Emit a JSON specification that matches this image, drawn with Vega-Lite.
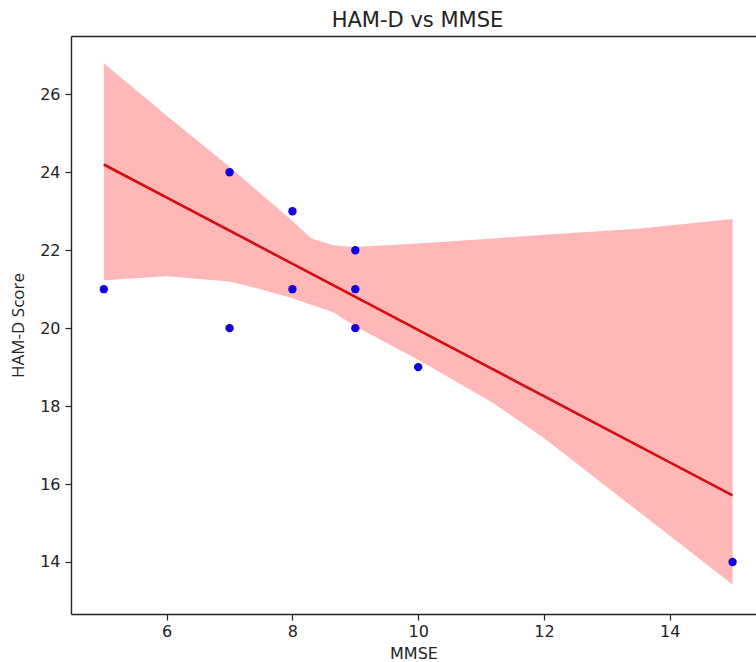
{
  "$schema": "https://vega.github.io/schema/vega-lite/v6.json",
  "autosize": {"type": "none"},
  "padding": {"left": 71, "top": 36, "right": 0, "bottom": 48},
  "width": 685,
  "height": 578,
  "background": "white",
  "config": {
    "view": {"stroke": null},
    "font": "DejaVu Sans",
    "axis": {
      "grid": false,
      "domainColor": "#222222",
      "domainWidth": 1.4,
      "tickColor": "#222222",
      "tickWidth": 1.2,
      "tickSize": 6,
      "labelFont": "DejaVu Sans",
      "labelFontSize": 16,
      "labelColor": "#222222",
      "titleFont": "DejaVu Sans",
      "titleFontSize": 16,
      "titleFontWeight": "normal",
      "titleColor": "#222222"
    }
  },
  "title": {
    "text": "HAM-D vs MMSE",
    "font": "DejaVu Sans",
    "fontSize": 21,
    "fontWeight": "normal",
    "color": "#222222",
    "offset": 5,
    "dx": 4
  },
  "resolve": {"axis": {"x": "independent"}},
  "datasets": {
    "points": [
      {"MMSE": 5, "HAMD": 21},
      {"MMSE": 7, "HAMD": 24},
      {"MMSE": 7, "HAMD": 20},
      {"MMSE": 8, "HAMD": 23},
      {"MMSE": 8, "HAMD": 21},
      {"MMSE": 9, "HAMD": 22},
      {"MMSE": 9, "HAMD": 21},
      {"MMSE": 9, "HAMD": 20},
      {"MMSE": 10, "HAMD": 19},
      {"MMSE": 15, "HAMD": 14}
    ],
    "fit": [
      {"MMSE": 5, "HAMD": 24.2},
      {"MMSE": 15, "HAMD": 15.71}
    ],
    "band": [
      {"MMSE": 5, "lo": 21.23, "hi": 26.8},
      {"MMSE": 6, "lo": 21.33, "hi": 25.45},
      {"MMSE": 7, "lo": 21.2, "hi": 24.14},
      {"MMSE": 7.5, "lo": 21.0, "hi": 23.44},
      {"MMSE": 8, "lo": 20.77, "hi": 22.75},
      {"MMSE": 8.3, "lo": 20.6, "hi": 22.3},
      {"MMSE": 8.65, "lo": 20.41, "hi": 22.13},
      {"MMSE": 9, "lo": 20.05, "hi": 22.08},
      {"MMSE": 10, "lo": 19.19, "hi": 22.17},
      {"MMSE": 11.2, "lo": 18.07, "hi": 22.3},
      {"MMSE": 12, "lo": 17.18, "hi": 22.4},
      {"MMSE": 13.5, "lo": 15.3, "hi": 22.55},
      {"MMSE": 15, "lo": 13.42, "hi": 22.8}
    ]
  },
  "layer": [
    {
      "data": {"name": "band"},
      "mark": {"type": "area", "color": "#ffb7b8", "opacity": 1},
      "encoding": {
        "x": {"field": "MMSE", "type": "quantitative", "scale": {"domain": [4.478, 15.373], "nice": false, "zero": false},
              "axis": {"orient": "bottom", "title": "MMSE", "values": [6, 8, 10, 12, 14], "labelPadding": 3, "titlePadding": 6}},
        "y": {"field": "lo", "type": "quantitative", "scale": {"domain": [12.665, 27.497], "nice": false, "zero": false},
              "axis": {"title": "HAM-D Score", "titleFont": "Open Sans", "titleFontSize": 17, "values": [14, 16, 18, 20, 22, 24, 26], "labelPadding": 5, "titlePadding": 12}},
        "y2": {"field": "hi"}
      }
    },
    {
      "data": {"name": "fit"},
      "mark": {"type": "line", "color": "#d40f0f", "strokeWidth": 2.6},
      "encoding": {
        "x": {"field": "MMSE", "type": "quantitative", "axis": null},
        "y": {"field": "HAMD", "type": "quantitative"}
      }
    },
    {
      "data": {"name": "points"},
      "mark": {"type": "point", "filled": true, "shape": "circle", "color": "#1000dd", "size": 70, "opacity": 1},
      "encoding": {
        "x": {"field": "MMSE", "type": "quantitative",
              "axis": {"orient": "top", "title": null, "labels": false, "ticks": false, "values": []}},
        "y": {"field": "HAMD", "type": "quantitative"}
      }
    }
  ]
}
